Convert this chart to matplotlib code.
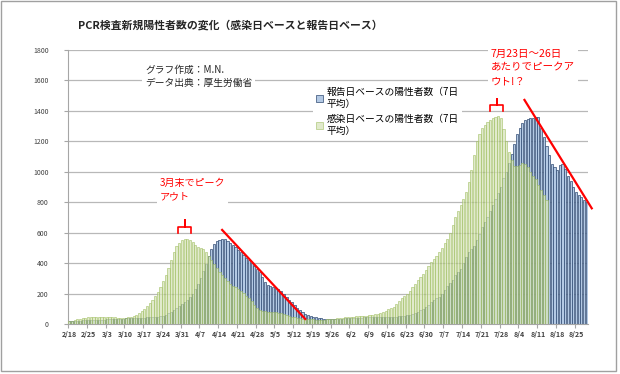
import matplotlib
matplotlib.use('Agg')
import matplotlib.pyplot as plt
from matplotlib.patches import Rectangle
from matplotlib.lines import Line2D
import numpy as np

plt.rcParams['font.family'] = ['Noto Sans CJK JP', 'DejaVu Sans']

# 7-day averages, one value per day from 2/18
report_base = [20, 20, 21, 22, 22, 23, 24,
               25, 25, 26, 27, 28, 28, 29,
               30, 30, 31, 32, 33, 34, 36,
               37, 38, 39, 40, 40, 41, 42,
               42, 43, 44, 45, 46, 48, 50,
               55, 62, 70, 80, 92, 105, 118,
               130, 145, 160, 178, 200, 230, 262,
               300, 345, 395, 445, 495, 525, 545,
               555, 558, 556, 548, 535, 520, 505,
               488, 470, 452, 435, 418, 400, 380,
               360, 340, 310, 275, 255, 248, 242,
               236, 228, 215, 195, 175, 160, 145,
               125, 105, 90, 78, 66, 58, 52,
               47, 43, 40, 37, 35, 33, 32,
               32, 33, 34, 35, 36, 37, 38,
               39, 40, 41, 42, 42, 43, 44,
               44, 44, 44, 45, 45, 45, 46,
               46, 46, 47, 48, 50, 52, 54,
               56, 60, 65, 72, 80, 90, 100,
               110, 125, 145, 160, 170, 176, 200,
               225, 250, 270, 290, 320, 340, 360,
               400, 440, 470, 490, 510, 550, 590,
               640, 670, 700, 740, 780, 820, 860,
               900, 960, 1000, 1060, 1120, 1180, 1250,
               1290, 1320, 1340, 1350, 1355, 1355, 1358,
               1360, 1290, 1230, 1170, 1110, 1050, 1030,
               1010, 1045, 1050, 1015, 970, 940, 900,
               870, 850, 835, 815, 800]

infection_base = [18, 22, 26, 30, 34, 38, 42,
                  44, 45, 46, 46, 47, 47, 46, 46, 45, 45, 44,
                  42, 40, 40, 41, 44, 48,
                  55, 62, 72, 85, 100, 118, 138,
                  160, 185, 212, 245, 280, 320, 365,
                  420, 470, 510, 535, 550, 558, 560,
                  555, 540, 520, 505, 498, 490, 470,
                  450, 420, 395, 365, 340, 320, 300,
                  280, 262, 250, 242, 232, 220, 205,
                  185, 170, 150, 125, 105, 92, 88,
                  84, 82, 80, 78, 76, 74, 70,
                  64, 58, 52, 47, 44, 41, 38,
                  36, 34, 33, 32, 30, 28, 27,
                  27, 28, 30, 32, 34, 36, 38,
                  40, 42, 44, 46, 47, 48, 50,
                  52, 53, 54, 55, 57, 60, 63,
                  66, 72, 80, 88, 96, 104, 112,
                  130, 150, 170, 185, 195, 215, 242,
                  265, 290, 310, 330, 352, 380, 405,
                  430, 450, 475, 500, 530, 560, 600,
                  650, 700, 740, 780, 820, 870, 930,
                  1010, 1110, 1200, 1250, 1290, 1310, 1330,
                  1340, 1352, 1360, 1365, 1355, 1280, 1200,
                  1130, 1080, 1040, 1035, 1045, 1055, 1050,
                  1030, 1000, 975, 950, 915, 880, 850, 815]

week_labels = ['2/18', '2/25', '3/3', '3/10', '3/17', '3/24', '3/31', '4/7',
               '4/14', '4/21', '4/28', '5/5', '5/12', '5/19', '5/26', '6/2',
               '6/9', '6/16', '6/23', '6/30', '7/7', '7/14', '7/21', '7/28',
               '8/4', '8/11', '8/18', '8/25']

W, H = 620, 374
fig = plt.figure(figsize=(W / 100, H / 100), dpi=100)
ax = fig.add_axes([68 / W, 50 / H, 520 / W, 274 / H])

n = len(report_base)
ax.bar(np.arange(n), report_base, width=0.8, color='#b3c9e4',
       edgecolor='#2f4a72', linewidth=0.5, zorder=2,
       label='報告日ベースの陽性者数（7日\n平均）')
ax.bar(np.arange(len(infection_base)), infection_base, width=0.8,
       color='#d8e4bc', alpha=0.75, edgecolor='#9bbb59', linewidth=0.5,
       zorder=3, label='感染日ベースの陽性者数（7日\n平均）')

ax.set_xlim(-0.5, n - 0.5)
ax.set_ylim(0, 1800)
ax.set_yticks(range(0, 1801, 200))
ax.yaxis.grid(True, color='#b8b8b8', linewidth=0.9)
ax.set_axisbelow(True)
for s in ['top', 'right']:
    ax.spines[s].set_visible(False)
for s in ['left', 'bottom']:
    ax.spines[s].set_color('#a6a6a6')
    ax.spines[s].set_linewidth(0.8)
ax.tick_params(axis='y', length=3, color='#a6a6a6', labelsize=5, pad=11,
               labelcolor='#404040')

week_pos = np.arange(0, 7 * len(week_labels), 7)
ax.set_xticks(np.arange(0, n, 7) - 0.5)
ax.set_xticklabels([])
ax.set_xticks(week_pos, minor=True)
ax.set_xticklabels(week_labels, minor=True, fontsize=5, fontweight='bold',
                   color='#404040')
ax.tick_params(axis='x', which='major', length=3, color='#a6a6a6')
ax.tick_params(axis='x', which='minor', length=0, pad=5)

ax.legend(loc='upper left', bbox_to_anchor=(313 / W, 1 - 84 / H),
          bbox_transform=fig.transFigure, frameon=True, facecolor='white',
          edgecolor='none', framealpha=1, fontsize=7, handlelength=0.7,
          handleheight=0.7, handletextpad=0.4, labelspacing=0.6,
          borderpad=0.3, borderaxespad=0)

# red trend lines
ax.plot([57, 88], [618, 33], color='#ff0000', lw=1.6, zorder=6, clip_on=False)
ax.plot([169.8, 194.9], [1472, 760], color='#ff0000', lw=1.6, zorder=6,
        clip_on=False)

# text boxes
white = dict(facecolor='white', edgecolor='none', pad=2)
fig.text(230 / W, 1 - 25 / H, 'PCR検査新規陽性者数の変化（感染日ベースと報告日ベース）',
         ha='center', va='center', fontsize=7.8, fontweight='bold', color='#262626')
fig.text(145 / W, 1 - 65 / H, 'グラフ作成：M.N.\nデータ出典：厚生労働省',
         ha='left', va='top', fontsize=7, linespacing=1.4, color='#262626',
         bbox=white)
fig.text(160 / W, 1 - 178 / H, '3月末でピーク\nアウト', ha='left', va='top',
         fontsize=7.2, linespacing=1.4, color='#ff0000', bbox=white)
fig.text(491 / W, 1 - 49 / H, '7月23日～26日\nあたりでピークア\nウト!？',
         ha='left', va='top', fontsize=7.6, linespacing=1.45, color='#ff0000',
         bbox=white)


def bracket(x0, x1, ytop, ybot):
    xm = (x0 + x1) / 2
    ymid = (ytop + ybot) / 2
    xs = [x0, x0, xm, xm, xm, x1, x1]
    ys = [ybot, ymid, ymid, ytop, ymid, ymid, ybot]
    fig.add_artist(Line2D([x / W for x in xs], [1 - y / H for y in ys],
                          color='#ff0000', lw=1.2))


bracket(178, 191, 220, 233)
bracket(490, 503, 99, 111)

fig.add_artist(Rectangle((1 / W, 3 / H), 615 / W, 370 / H, fill=False,
                         edgecolor='#a0a0a0', lw=1,
                         transform=fig.transFigure))

fig.savefig('out.png', dpi=100)
